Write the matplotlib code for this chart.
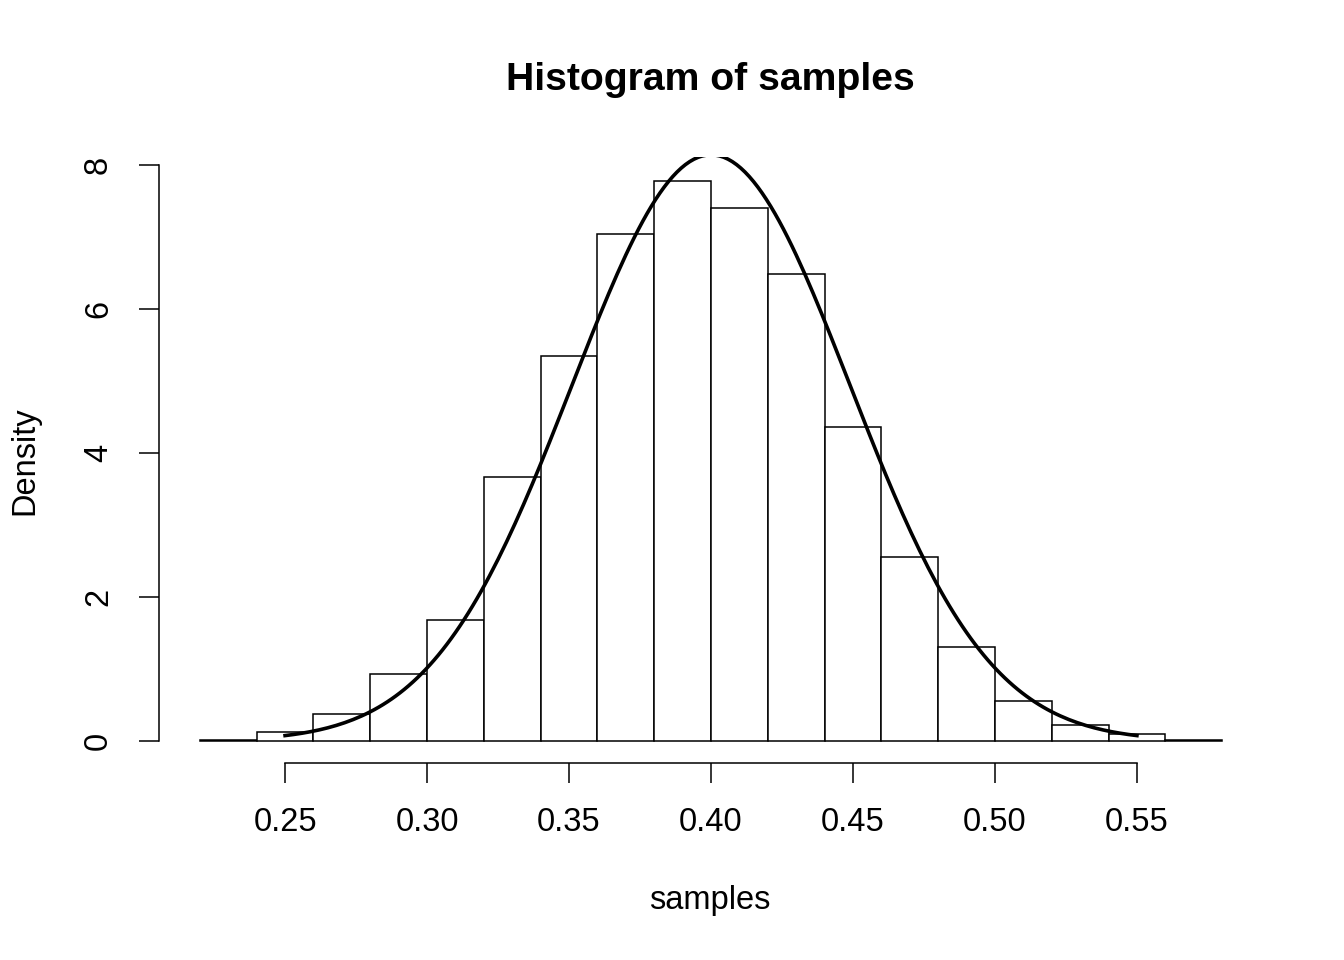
import numpy as np
import matplotlib
matplotlib.use("Agg")
import matplotlib.pyplot as plt

plt.rcParams['font.family'] = ['Liberation Sans', 'DejaVu Sans']

# histogram bins (width 0.02) and densities
breaks = [0.22, 0.24, 0.26, 0.28, 0.30, 0.32, 0.34, 0.36, 0.38, 0.40,
          0.42, 0.44, 0.46, 0.48, 0.50, 0.52, 0.54, 0.56, 0.58]
density = [0.01, 0.13, 0.37, 0.93, 1.68, 3.66, 5.35, 7.04, 7.78, 7.40,
           6.49, 4.36, 2.56, 1.31, 0.56, 0.22, 0.10, 0.01]

# normal curve overlaid with curve(dnorm(...), 0.25, 0.55)
curve_mean = 0.40
curve_sd = 0.049
curve_from, curve_to = 0.25, 0.55

xticks = [0.25, 0.30, 0.35, 0.40, 0.45, 0.50, 0.55]
xticklabels = ["0.25", "0.30", "0.35", "0.40", "0.45", "0.50", "0.55"]
yticks = [0, 2, 4, 6, 8]

W, H = 1344, 960
fig = plt.figure(figsize=(W / 100, H / 100), dpi=100)
# plot region in pixels: x 159..1263, y 157..763
ax = fig.add_axes([159 / W, 1 - 763 / H, (1263 - 159) / W, (763 - 157) / H])

lw = 1.1
fs = 23.5
left = np.array(breaks[:-1])
widths = np.diff(breaks)
ax.bar(left, density, width=widths, align='edge', facecolor='white',
       edgecolor='black', linewidth=lw)

xs = np.linspace(curve_from, curve_to, 201)
ys = np.exp(-0.5 * ((xs - curve_mean) / curve_sd) ** 2) / (curve_sd * np.sqrt(2 * np.pi))
ax.plot(xs, ys, color='black', linewidth=2.6)

ax.set_xlim(0.2056, 0.5944)
ax.set_ylim(-22 / 72, (741 - 157) / 72)

for s in ['top', 'right']:
    ax.spines[s].set_visible(False)
ax.spines['left'].set_bounds(0, 8)
ax.spines['bottom'].set_bounds(0.25, 0.55)
ax.spines['left'].set_linewidth(lw)
ax.spines['bottom'].set_linewidth(lw)

ax.set_xticks(xticks)
ax.set_xticklabels(xticklabels)
ax.set_yticks(yticks)
ax.set_yticklabels([str(v) for v in yticks], rotation=90, va='center')
ax.tick_params(axis='both', length=14.4, width=lw, labelsize=fs, direction='out')
ax.tick_params(axis='x', pad=17)
ax.tick_params(axis='y', pad=18)

fig.text(710 / W, 1 - 80 / H, "Histogram of samples", ha='center', va='center',
         fontsize=28.2, fontweight='bold')
fig.text(710 / W, 1 - 901 / H, "samples", ha='center', va='center', fontsize=fs)
fig.text(25 / W, 1 - 461 / H, "Density", ha='center', va='center', fontsize=fs,
         rotation=90)

fig.savefig("out.png", dpi=100)
